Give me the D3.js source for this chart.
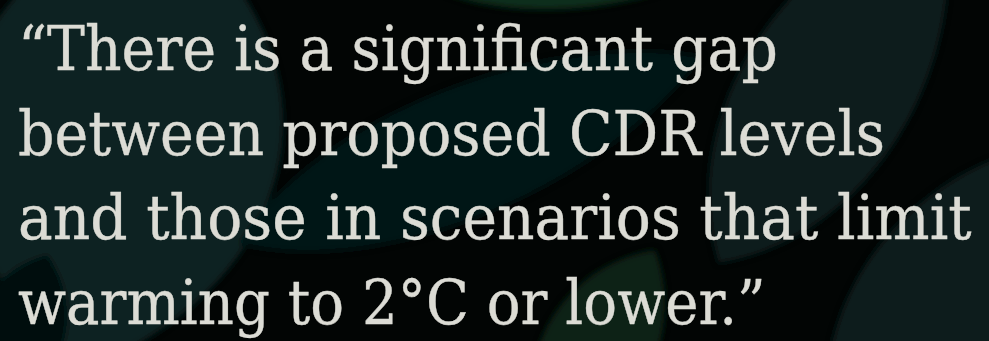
<!DOCTYPE html>
<html>
<head>
<meta charset="utf-8">
<script src="https://cdn.jsdelivr.net/npm/d3@7"></script>
<style>
  html, body { margin: 0; padding: 0; background: #030706; }
  svg { display: block; }
</style>
</head>
<body>
<svg class="card"></svg>
<script>
// tamaño de la tarjeta
var width = 989,
    height = 341;

// lineas de la cita
var quoteLines = [
  "\u201CThere is a significant gap",
  "between proposed CDR levels",
  "and those in scenarios that limit",
  "warming to 2\u00B0C or lower.\u201D"
];
// ancho que ocupa cada linea en la imagen (px)
var lineWidths = [760, 867, 954, 748];

// hojas del fondo: centro, largo, ancho, giro, color
var leafX    = [120, 830, 945, 575, 600, 470, 20];
var leafY    = [140, 85, 300, -22, 345, 150, 330];
var leafLen  = [470, 420, 380, 280, 220, 500, 160];
var leafWid  = [320, 170, 170, 60, 110, 130, 90];
var leafRot  = [100, -58, -55, -4, -60, -22, -70];
var leafFill = ["#0a2421", "#081c1c", "#091d1d", "#0e2e1a", "#0a2216", "#061314", "#051110"];

var svg = d3.select(".card")
    .attr("width", width)
    .attr("height", height);

svg.append("rect")
    .attr("width", width)
    .attr("height", height)
    .attr("fill", "#020504");

var defs = svg.append("defs");
defs.append("filter")
    .attr("id", "soft")
  .append("feGaussianBlur")
    .attr("stdDeviation", 3);

function leafPath(len, wid) {
  var p = d3.path();
  p.moveTo(-len / 2, 0);
  p.bezierCurveTo(-len / 4, -wid / 1.4, len / 4, -wid / 1.6, len / 2, 0);
  p.bezierCurveTo(len / 4, wid / 1.6, -len / 4, wid / 1.4, -len / 2, 0);
  p.closePath();
  return p.toString();
}

var leaves = leafX.map(function(d, i) {
  return {x: d, y: leafY[i], len: leafLen[i], wid: leafWid[i], rot: leafRot[i], fill: leafFill[i]};
});

var leafG = svg.append("g").attr("filter", "url(#soft)");

leafG.selectAll("path.leaf")
    .data(leaves)
  .enter().append("path")
    .attr("class", "leaf")
    .attr("transform", function(d) { return "translate(" + d.x + "," + d.y + ") rotate(" + d.rot + ")"; })
    .attr("d", function(d) { return leafPath(d.len, d.wid); })
    .attr("fill", function(d) { return d.fill; });

// nervio central de cada hoja
leafG.selectAll("line.vein")
    .data(leaves)
  .enter().append("line")
    .attr("class", "vein")
    .attr("transform", function(d) { return "translate(" + d.x + "," + d.y + ") rotate(" + d.rot + ")"; })
    .attr("x1", function(d) { return -d.len / 2 + 10; })
    .attr("x2", function(d) { return d.len / 2 - 10; })
    .attr("stroke", "#12302b")
    .attr("stroke-opacity", 0.3)
    .attr("stroke-width", 1.5);

// posicion vertical de las lineas
var y = d3.scalePoint()
    .domain(d3.range(quoteLines.length))
    .range([70, 324]);

var lines = svg.append("g")
    .attr("class", "quote")
  .selectAll("text")
    .data(quoteLines)
  .enter().append("text")
    .attr("x", 0)
    .attr("y", 0)
    .style("font-family", "'DejaVu Serif', serif")
    .style("font-size", "61px")
    .attr("fill", "#dcdcd5")
    .attr("stroke", "#dcdcd5")
    .attr("stroke-width", 0.4)
    .text(function(d) { return d; });

// se ajusta el ancho de cada linea al de la imagen
lines.attr("transform", function(d, i) {
  var w = this.getComputedTextLength();
  var k = lineWidths[i] / w;
  return "translate(18," + y(i) + ") scale(" + k + ",1)";
});
</script>
</body>
</html>
